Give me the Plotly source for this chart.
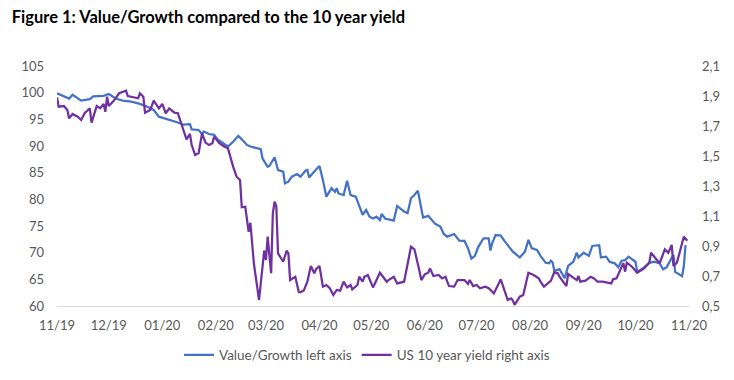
import pandas as pd
import plotly.graph_objects as go

# Days since 2019-11-01 and values
vg_days = [0, 2, 7, 9, 14, 19, 21, 27, 30, 34, 38, 43, 48, 52, 56, 59, 62, 66, 70, 73,
           77, 78, 82, 84, 85, 88, 91, 93, 96, 99, 102, 105, 107, 110, 112, 115, 118, 119,
           122, 123, 126, 128, 131, 132, 134, 136, 139, 141, 144, 145, 146, 149, 152, 154,
           156, 159, 161, 162, 163, 166, 168, 170, 173, 177, 179, 181, 183, 185, 187, 188,
           190, 195, 197, 201, 203, 205, 207, 209, 212, 215, 217, 219, 222, 224, 226, 230,
           233, 236, 238, 240, 242, 244, 247, 250, 251, 252, 254, 257, 259, 261, 264, 268,
           271, 273, 275, 278, 280, 283, 285, 286, 287, 288, 291, 294, 296, 299, 301, 302,
           305, 308, 310, 314, 315, 318, 320, 323, 325, 327, 329, 331, 335, 336, 340, 343,
           346, 349, 351, 353, 357, 358, 362, 363, 364]
vg_values = [99.9, 99.6, 98.9, 99.6, 98.5, 98.8, 99.3, 99.4, 99.75, 98.9, 98.5, 98.3, 97.9,
             97.4, 96.75, 95.5, 95.2, 94.9, 94.4, 94.0, 94.1, 93.1, 93.0, 92.25, 92.7, 92.25,
             92.1, 91.25, 90.5, 89.9, 90.8, 91.9, 91.25, 90.2, 89.9, 89.6, 89.4, 87.7, 86.1,
             86.25, 87.9, 85.5, 85.2, 83.0, 83.3, 84.25, 84.75, 84.25, 85.4, 85.5, 84.1, 85.2,
             86.25, 83.6, 80.5, 82.1, 81.4, 82.1, 81.1, 80.8, 83.5, 80.8, 80.5, 77.1, 78.0,
             76.75, 76.4, 76.75, 76.1, 77.25, 76.4, 76.0, 78.75, 77.7, 77.4, 80.2, 80.8, 81.6,
             76.6, 76.9, 76.1, 75.4, 74.9, 73.5, 73.0, 73.5, 72.25, 72.2, 70.8, 68.9, 69.4,
             71.1, 72.7, 72.7, 70.4, 71.75, 73.3, 73.2, 72.25, 71.4, 70.2, 69.1, 70.2, 72.4,
             70.8, 70.5, 69.4, 68.1, 68.0, 68.5, 68.2, 66.6, 66.9, 65.2, 67.5, 68.3, 70.0,
             69.1, 70.0, 69.4, 71.25, 71.4, 69.1, 69.25, 68.3, 68.0, 67.25, 68.5, 68.6, 69.25,
             68.3, 66.4, 67.25, 68.1, 68.3, 68.0, 66.9, 67.25, 69.6, 66.4, 65.6, 67.5, 71.4]

yld_days = [0, 1, 4, 6, 7, 9, 12, 14, 16, 19, 20, 23, 25, 27, 28, 29, 30, 33, 36, 40, 41,
            43, 47, 48, 50, 51, 54, 56, 59, 61, 63, 65, 68, 70, 72, 75, 77, 78, 80, 82, 84,
            86, 88, 90, 91, 94, 97, 99, 102, 104, 106, 107, 109, 111, 112, 114, 117, 119,
            120, 121, 122, 124, 125, 126, 127, 128, 131, 133, 134, 135, 138, 140, 141, 143,
            145, 147, 149, 150, 152, 154, 156, 158, 160, 162, 164, 166, 168, 170, 171, 174,
            175, 177, 178, 180, 183, 187, 191, 192, 195, 197, 201, 205, 207, 210, 211, 213,
            215, 216, 218, 221, 223, 225, 227, 230, 232, 236, 238, 239, 241, 243, 245, 248,
            250, 253, 257, 261, 263, 264, 265, 268, 270, 273, 276, 279, 280, 282, 284, 286,
            288, 290, 291, 293, 295, 296, 299, 301, 302, 303, 306, 309, 311, 313, 316, 319,
            321, 322, 324, 327, 328, 329, 330, 333, 336, 340, 343, 344, 346, 349, 352, 354,
            356, 357, 359, 361, 363, 365]
yld_values = [1.891, 1.829, 1.833, 1.807, 1.751, 1.78, 1.762, 1.74, 1.785, 1.818, 1.722,
              1.833, 1.818, 1.847, 1.795, 1.895, 1.833, 1.869, 1.918, 1.935, 1.9, 1.895,
              1.885, 1.918, 1.895, 1.789, 1.807, 1.869, 1.818, 1.847, 1.785, 1.818, 1.789,
              1.785, 1.72, 1.611, 1.647, 1.573, 1.507, 1.518, 1.651, 1.589, 1.573, 1.585,
              1.629, 1.585, 1.562, 1.551, 1.429, 1.362, 1.34, 1.158, 1.162, 0.995, 1.055,
              0.785, 0.54, 0.795, 0.869, 0.807, 0.962, 0.718, 1.118, 1.195, 1.167, 0.851,
              0.795, 0.869, 0.851, 0.673, 0.695, 0.595, 0.592, 0.605, 0.662, 0.767, 0.718,
              0.745, 0.767, 0.629, 0.64, 0.618, 0.573, 0.607, 0.602, 0.662, 0.624, 0.64,
              0.611, 0.64, 0.695, 0.662, 0.695, 0.707, 0.624, 0.722, 0.662, 0.673, 0.695,
              0.651, 0.662, 0.895, 0.878, 0.729, 0.673, 0.711, 0.722, 0.751, 0.7, 0.707,
              0.684, 0.695, 0.633, 0.629, 0.673, 0.673, 0.647, 0.673, 0.633, 0.64, 0.618,
              0.629, 0.618, 0.584, 0.678, 0.54, 0.551, 0.536, 0.507, 0.562, 0.573, 0.722,
              0.707, 0.684, 0.662, 0.629, 0.647, 0.668, 0.725, 0.718, 0.695, 0.662, 0.633,
              0.713, 0.691, 0.673, 0.7, 0.662, 0.669, 0.695, 0.684, 0.662, 0.662, 0.655,
              0.651, 0.678, 0.684, 0.762, 0.785, 0.729, 0.789, 0.762, 0.722, 0.751, 0.789,
              0.855, 0.829, 0.785, 0.878, 0.855, 0.907, 0.767, 0.789, 0.885, 0.962, 0.935]

start_date = "2019-11-01"
end_date = "2020-11-01"
series_names = ["Value/Growth left axis", "US 10 year yield right axis"]
title_text = "Figure 1: Value/Growth compared to the 10 year yield"

base = pd.Timestamp(start_date)
vg_dates = base + pd.to_timedelta(vg_days, unit="D")
yld_dates = base + pd.to_timedelta(yld_days, unit="D")

fig = go.Figure()
fig.add_trace(go.Scatter(x=vg_dates, y=vg_values, name=series_names[0], mode="lines",
                         line=dict(color="#4472C4", width=2.25)))
fig.add_trace(go.Scatter(x=yld_dates, y=yld_values, name=series_names[1], mode="lines",
                         line=dict(color="#7030A0", width=2.25), yaxis="y2"))

tickfont = dict(family="Lato", size=13, color="#595959")
fig.update_layout(
    width=734, height=380,
    margin=dict(l=57, r=45, t=66, b=74, autoexpand=False),
    paper_bgcolor="white", plot_bgcolor="white",
    separators=", ",
    title=dict(text=title_text, x=0.016, xanchor="left", y=1 - 17 / 380, yanchor="middle",
               xref="container", yref="container",
               font=dict(family="Lato", size=16.5, color="#000000", weight="bold")),
    xaxis=dict(type="date", range=[start_date, end_date], dtick="M1", tick0=start_date,
               tickformat="%m/%y", showgrid=False, zeroline=False, showline=True,
               linecolor="#D9D9D9", linewidth=1, ticks="", tickfont=tickfont,
               ticklabelstandoff=7, automargin=False),
    yaxis=dict(range=[60, 105], dtick=5, tick0=60, showgrid=False, zeroline=False,
               showline=False, ticks="", tickfont=tickfont, ticklabelstandoff=12,
               automargin=False),
    yaxis2=dict(range=[0.5, 2.1], dtick=0.2, tick0=0.5, tickformat=".1f", overlaying="y",
                side="right", showgrid=False, zeroline=False, showline=False, ticks="",
                tickfont=tickfont, ticklabelstandoff=12, automargin=False),
    legend=dict(orientation="h", x=0.5, xanchor="center", y=1 - 355 / 380, yanchor="middle",
                xref="container", yref="container",
                font=dict(family="Lato", size=13.5, color="#595959"),
                itemwidth=30, tracegroupgap=0),
    showlegend=True,
)

fig.write_html(
    "out.html",
    config={"displayModeBar": False},
    post_script="document.body.style.margin='0';document.body.style.padding='0';"
                "document.body.style.overflow='hidden';",
)
